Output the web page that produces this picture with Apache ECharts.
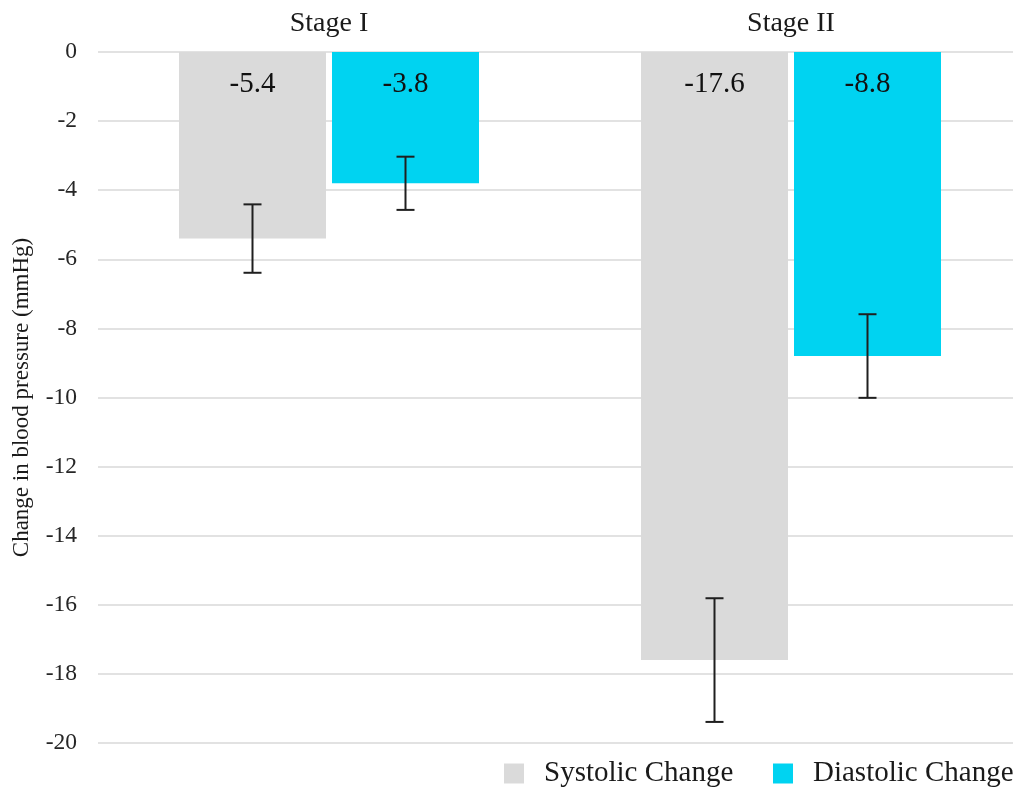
<!DOCTYPE html>
<html>
<head>
<meta charset="utf-8">
<title>Change in blood pressure by stage</title>
<script src="https://cdn.jsdelivr.net/npm/echarts@6/dist/echarts.min.js"></script>
<style>
  html, body { margin: 0; padding: 0; background: #ffffff; }
  #chart { width: 1013px; height: 789px; }
</style>
</head>
<body>
<div id="chart"></div>
<script>
// Mean change in blood pressure (mmHg) with error half-widths
const categories = ['Stage I', 'Stage II'];
const seriesNames = ['Systolic Change', 'Diastolic Change'];
const systolicChange = [-5.4, -17.6];
const diastolicChange = [-3.8, -8.8];
const systolicError = [0.99, 1.79];
const diastolicError = [0.77, 1.21];
const yMin = -20;
const yMax = 0;
const yStep = 2;

const FONT = "'Liberation Serif', 'Times New Roman', serif";
const BAR_WIDTH = 147;
const BAR_GAP = 6;
const SYSTOLIC_COLOR = '#DADADA';
const DIASTOLIC_COLOR = '#00D3F1';

// Horizontal shift of each bar's centre from its category centre
const half = (BAR_WIDTH + BAR_GAP) / 2;

function errorSeries(name, values, errors, shift) {
  return {
    name: name + ' error',
    type: 'custom',
    z: 5,
    silent: true,
    data: values.map((v, i) => [i, v, errors[i]]),
    encode: { x: 0, y: 1 },
    renderItem: function (params, api) {
      const idx = api.value(0);
      const v = api.value(1);
      const e = api.value(2);
      const top = api.coord([idx, v + e]);
      const bottom = api.coord([idx, v - e]);
      const x = top[0] + shift;
      const cap = 9;
      const style = { stroke: '#1f1f1f', lineWidth: 2 };
      return {
        type: 'group',
        children: [
          { type: 'line', shape: { x1: x, y1: top[1], x2: x, y2: bottom[1] }, style: style },
          { type: 'line', shape: { x1: x - cap, y1: top[1], x2: x + cap, y2: top[1] }, style: style },
          { type: 'line', shape: { x1: x - cap, y1: bottom[1], x2: x + cap, y2: bottom[1] }, style: style }
        ]
      };
    }
  };
}

function legendItem(name, left) {
  return {
    data: [name],
    left: left,
    top: 754,
    icon: 'rect',
    itemWidth: 20,
    itemHeight: 20,
    textStyle: { fontFamily: FONT, fontSize: 29, color: '#1a1a1a', padding: [0, 0, 0, 15] }
  };
}

const chart = echarts.init(document.getElementById('chart'), null, { renderer: 'canvas' });

const barLabel = {
  show: true,
  position: 'insideTop',
  distance: 18,
  fontFamily: FONT,
  fontSize: 29,
  color: '#111111'
};

chart.setOption({
  animation: false,
  backgroundColor: '#ffffff',
  textStyle: { fontFamily: FONT },
  grid: {
    left: 98, right: -9, top: 52, bottom: 46,
    containLabel: false,
    outerBoundsMode: 'none'
  },
  legend: [
    legendItem(seriesNames[0], 499),
    legendItem(seriesNames[1], 768)
  ],
  xAxis: {
    type: 'category',
    position: 'top',
    data: categories,
    axisLine: { show: false },
    axisTick: { show: false },
    axisLabel: { fontFamily: FONT, fontSize: 28, color: '#1a1a1a', margin: 14 }
  },
  yAxis: {
    type: 'value',
    min: yMin,
    max: yMax,
    interval: yStep,
    name: 'Change in blood pressure (mmHg)',
    nameLocation: 'middle',
    nameRotate: 90,
    nameGap: 65,
    nameTextStyle: { fontFamily: FONT, fontSize: 23, color: '#1a1a1a' },
    axisLine: { show: false },
    axisTick: { show: false },
    axisLabel: { fontFamily: FONT, fontSize: 23.5, color: '#262626', margin: 21 },
    splitLine: { lineStyle: { color: '#D9D9D9', width: 1.5 } }
  },
  series: [
    {
      name: seriesNames[0],
      type: 'bar',
      data: systolicChange,
      barWidth: BAR_WIDTH,
      barGap: (BAR_GAP / BAR_WIDTH * 100) + '%',
      itemStyle: { color: SYSTOLIC_COLOR },
      label: barLabel
    },
    {
      name: seriesNames[1],
      type: 'bar',
      data: diastolicChange,
      barWidth: BAR_WIDTH,
      barGap: (BAR_GAP / BAR_WIDTH * 100) + '%',
      itemStyle: { color: DIASTOLIC_COLOR },
      label: barLabel
    },
    errorSeries(seriesNames[0], systolicChange, systolicError, -half),
    errorSeries(seriesNames[1], diastolicChange, diastolicError, half)
  ]
});
</script>
</body>
</html>
